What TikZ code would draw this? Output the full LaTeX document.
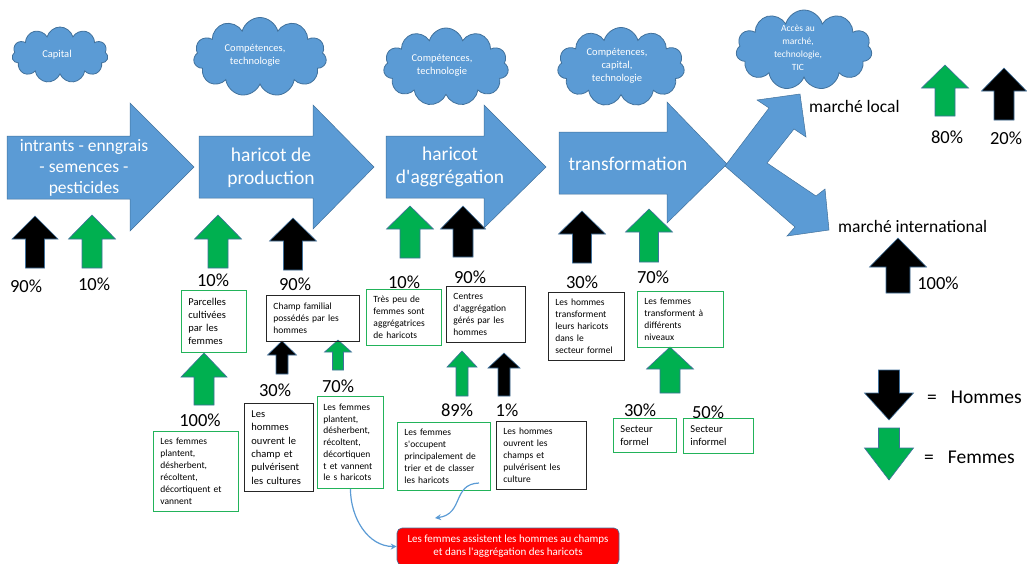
\documentclass[tikz,border=0pt]{standalone}
\usepackage{fontspec}
\setmainfont{Carlito}
\usetikzlibrary{shapes.symbols,arrows.meta,calc}
\definecolor{ofblue}{HTML}{5B9BD5}
\definecolor{ofedge}{HTML}{41719C}
\definecolor{ofgreen}{HTML}{00B050}
\definecolor{boxgreen}{HTML}{22B35A}
\newcommand{\BlockArrow}[7]{%
  \filldraw[blockarrow, fill=#7] (#1,#2) -- ({#1+#5},#3) -- ({#1+#6},#3) -- ({#1+#6},#4) -- ({#1-#6},#4) -- ({#1-#6},#3) -- ({#1-#5},#3) -- cycle;}
\newcommand{\apos}{\textquotesingle}
\tikzset{
  blockarrow/.style={draw=ofedge, line width=0.6pt},
  chevron/.style={fill=ofblue, draw=ofedge, line width=0.5pt},
  chevtext/.style={text=white, align=center, font=\fontsize{19.5}{23}\selectfont},
  cloudshape/.style={cloud, cloud puffs=11, cloud ignores aspect, fill=ofblue, draw=ofedge, line width=0.8pt, inner sep=0pt},
  cloudtext/.style={text=white, align=center, font=\fontsize{10.5}{13}\selectfont},
  pct/.style={font=\fontsize{18.5}{20}\selectfont, inner sep=0pt},
  box/.style={draw, line width=0.9pt, inner xsep=7pt, inner ysep=2pt, align=left, anchor=north west, font=\fontsize{9.5}{12}\selectfont},
  gbox/.style={box, draw=boxgreen},
  kbox/.style={box, draw=black!85},
  market/.style={anchor=west, font=\fontsize{17.5}{20}\selectfont, inner sep=0pt},
  legend/.style={anchor=west, font=\fontsize{19.5}{21}\selectfont, inner sep=0pt},
  curvearrow/.style={draw=ofblue, line width=1.2pt, -{Stealth[length=6pt,width=6pt]}},
}
\begin{document}
\begin{tikzpicture}[x=1pt,y=-1pt]
\useasboundingbox (0,0) rectangle (1027,563);
% clouds
\node[cloudshape, minimum width=96, minimum height=56] (c1) at (60,55) {};
\node[cloudtext] (c1t) at (57,55) {Capital};
\node[cloudshape, minimum width=133, minimum height=79] (c2) at (260,57) {};
\node[cloudtext] (c2t) at (255,55) {Compétences,\\technologie};
\node[cloudshape, minimum width=125, minimum height=78] (c3) at (446,67) {};
\node[cloudtext] (c3t) at (442,65) {Compétences,\\technologie};
\node[cloudshape, minimum width=127, minimum height=79] (c4) at (621,67) {};
\node[cloudtext] (c4t) at (617,66) {Compétences,\\capital,\\technologie};
\node[cloudshape, minimum width=136, minimum height=80] (c5) at (804,50) {};
\node[cloudtext, font=\fontsize{9.5}{13}\selectfont] (c5t) at (798,48) {Accès au\\marché,\\technologie,\\TIC};
% chevrons
\filldraw[chevron] (7,136) -- (130,136) -- (130,103) -- (194,167) -- (130,231) -- (130,199) -- (7,199) -- cycle;
\filldraw[chevron] (199,136) -- (313,136) -- (313,105) -- (374,167) -- (313,229) -- (313,198) -- (199,198) -- cycle;
\filldraw[chevron] (386,136) -- (484,136) -- (484,105) -- (546,167) -- (484,228) -- (484,198) -- (386,198) -- cycle;
\filldraw[chevron] (559,132) -- (667,132) -- (667,102) -- (727,164) -- (667,223) -- (667,194) -- (559,194) -- cycle;
\filldraw[chevron] (725,166) -- (769,108) -- (757,100) -- (800,94) -- (806,137) -- (794,129) -- (767,163) -- (816,196) -- (825,189) -- (829,230) -- (787,236) -- (795,227) -- cycle;
\node[chevtext, font=\fontsize{17.5}{21}\selectfont] (t1) at (84,168) {intrants - enngrais\\- semences -\\pesticides};
\node[chevtext] (t2) at (271,168) {haricot de\\production};
\node[chevtext] (t3) at (450,167) {haricot\\d\apos aggrégation};
\node[chevtext] (t4) at (628,164) {transformation};
\node[market] (ml) at (809,106) {marché local};
\node[market] (mi) at (838,226) {marché international};
% block arrows
\BlockArrow{35}{216}{239}{268}{23}{9.5}{black}
\BlockArrow{92}{215}{239}{268}{23.5}{10}{ofgreen}
\BlockArrow{218}{215}{239}{268}{23.5}{10}{ofgreen}
\BlockArrow{293}{218}{241}{270}{23.5}{9.5}{black}
\BlockArrow{410}{206}{229}{258}{23.5}{10}{ofgreen}
\BlockArrow{463}{206}{229}{257}{22.5}{10}{black}
\BlockArrow{582}{211}{234}{263}{23.5}{9.5}{black}
\BlockArrow{649}{209}{232}{262}{23.5}{9.5}{ofgreen}
\BlockArrow{945}{65}{88}{116}{23.5}{10}{ofgreen}
\BlockArrow{1004}{68}{91}{120}{22.5}{10}{black}
\BlockArrow{898}{238}{267}{293}{28.5}{12}{black}
\BlockArrow{204}{353}{377}{405}{23}{10}{ofgreen}
\BlockArrow{282}{341}{355}{374}{14.5}{6}{black}
\BlockArrow{338}{340}{352}{370}{13.5}{5.5}{ofgreen}
\BlockArrow{462}{351}{367}{396}{15}{6}{ofgreen}
\BlockArrow{504}{353}{368}{396}{16}{6}{black}
\BlockArrow{670}{347}{369}{393}{23.5}{10}{ofgreen}
\BlockArrow{889}{420}{393}{370}{24.5}{10.5}{black}
\BlockArrow{889}{480}{448}{428}{24.5}{10.5}{ofgreen}
% percentages
\node[pct] (p1) at (26,286) {90\%};
\node[pct] (p2) at (94,284) {10\%};
\node[pct] (p3) at (213,280) {10\%};
\node[pct] (p4) at (295,284) {90\%};
\node[pct] (p5) at (404,282) {10\%};
\node[pct] (p6) at (470,277) {90\%};
\node[pct] (p7) at (582,282) {30\%};
\node[pct] (p8) at (653,277) {70\%};
\node[pct] (p9) at (947,137) {80\%};
\node[pct] (p10) at (1006,138) {20\%};
\node[pct] (p11) at (938,283) {100\%};
\node[pct] (p12) at (200,420) {100\%};
\node[pct] (p13) at (275,390) {30\%};
\node[pct] (p14) at (338,386) {70\%};
\node[pct] (p15) at (457,410) {89\%};
\node[pct] (p16) at (507,410) {1\%};
\node[pct] (p17) at (640,410) {30\%};
\node[pct] (p18) at (708,412) {50\%};
% boxes
\node[gbox, font=\fontsize{10.5}{13}\selectfont, text width=51, minimum height=62] (b1) at (181,290) {Parcelles\\cultivées\\par les\\femmes};
\node[gbox, text width=71, minimum height=80] (b2) at (153,431) {Les femmes\\plantent,\\désherbent,\\récoltent,\\décortiquent et\\vannent};
\node[kbox, text width=79, minimum height=46] (b3) at (266,295) {Champ familial\\possédés par les\\hommes};
\node[kbox, font=\fontsize{10.5}{13.3}\selectfont, text width=55, minimum height=88] (b4) at (244,403) {Les\\hommes\\ouvrent le\\champ et\\pulvérisent\\les cultures};
\node[gbox, inner xsep=6pt, text width=54, minimum height=92, font=\fontsize{9.5}{11.7}\selectfont] (b5) at (317,396) {Les femmes\\plantent,\\désherbent,\\récoltent,\\décortiquen\\t et vannent\\le s haricots};
\node[gbox, text width=61, minimum height=56] (b6) at (366,289) {Très peu de\\femmes sont\\aggrégatrices\\de haricots};
\node[kbox, text width=65, minimum height=56] (b7) at (446,286) {Centres\\d\apos aggrégation\\gérés par les\\hommes};
\node[gbox, text width=79, minimum height=68] (b8) at (397,422) {Les femmes\\s\apos occupent\\principalement de\\trier et de classer\\les haricots};
\node[kbox, text width=76, minimum height=68] (b9) at (496,421) {Les hommes\\ouvrent les\\champs et\\pulvérisent les\\culture};
\node[kbox, text width=62, minimum height=68] (b10) at (548,292) {Les hommes\\transforment\\leurs haricots\\dans le\\secteur formel};
\node[gbox, text width=72, minimum height=56] (b11) at (637,291) {Les femmes\\transforment à\\différents\\niveaux};
\node[gbox, font=\fontsize{10.5}{13}\selectfont, text width=49, minimum height=34] (b12) at (613,418) {Secteur\\formel};
\node[gbox, font=\fontsize{10.5}{13}\selectfont, text width=56, minimum height=35] (b13) at (683,418) {Secteur\\informel};
% red box
\node[fill=red, draw=ofedge, line width=0.6pt, rounded corners=5pt, minimum width=222, minimum height=37, text=white, align=center, font=\fontsize{11}{13}\selectfont, inner sep=0pt] (red) at (508,546.5) {Les femmes assistent les hommes au champs\\et dans l\apos aggrégation des haricots};
% curved arrows
\draw[curvearrow] (b5.south) to[out=-90,in=180] (red.west);
\coordinate (s2) at (479,483);
\coordinate (e2) at (435,518);
\draw[curvearrow] (s2) .. controls (452,484) and (464,514) .. (e2);
% legend
\node[legend] (lh) at (927,397) {=\hspace{14pt}Hommes};
\node[legend] (lf) at (924,457) {=\hspace{14pt}Femmes};
\end{tikzpicture}
\end{document}
